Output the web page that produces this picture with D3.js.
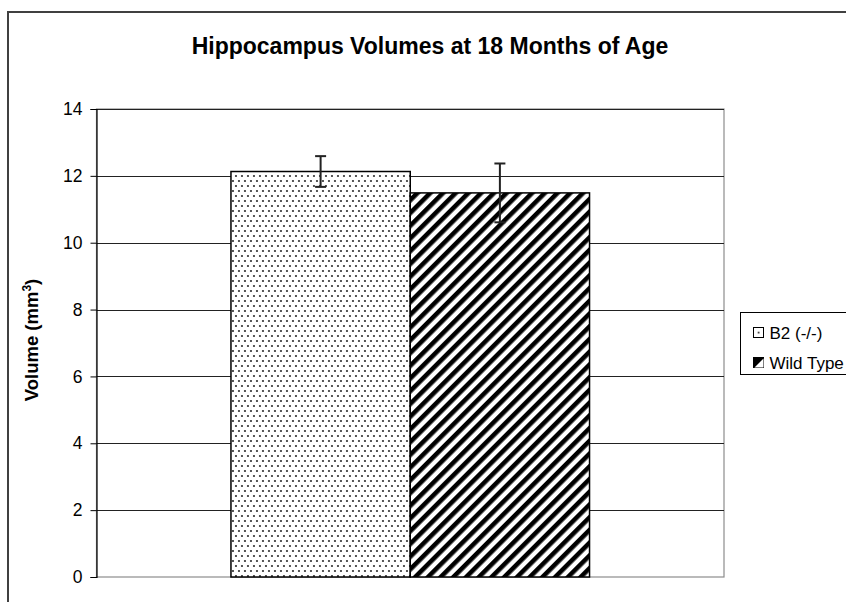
<!DOCTYPE html>
<html>
<head>
<meta charset="utf-8">
<script src="https://cdn.jsdelivr.net/npm/d3@7"></script>
<style>
  body { margin: 0; background: #fff; }
  svg { display: block; font-family: Arial, "Liberation Sans", sans-serif; }
</style>
</head>
<body>
<div id="chart"><svg></svg></div>
<script>
const categories = ['18 Months']
const series = ['B2 (-/-)', 'Wild Type']
const values = [12.13, 11.49]
const errors = [0.46, 0.88]
const yTicks = [0, 2, 4, 6, 8, 10, 12, 14]

const W = 846, H = 602
const margin = { top: 109, left: 96.5, right: 122, bottom: 25 }
const width = 724 - margin.left
const height = 577 - margin.top

const svg = d3.select('#chart svg').attr('width', W).attr('height', H)

// patterns
const defs = svg.append('defs')
const dots = defs.append('pattern')
  .attr('id', 'dots').attr('patternUnits', 'userSpaceOnUse')
  .attr('width', 6).attr('height', 10)
dots.append('rect').attr('width', 6).attr('height', 10).attr('fill', '#fff')
dots.append('rect').attr('x', 1).attr('y', 1).attr('width', 2).attr('height', 2).attr('fill', '#555')
dots.append('rect').attr('x', 4).attr('y', 6).attr('width', 2).attr('height', 2).attr('fill', '#555')

const stripes = defs.append('pattern')
  .attr('id', 'stripes').attr('patternUnits', 'userSpaceOnUse')
  .attr('width', 9).attr('height', 9)
  .attr('patternTransform', 'rotate(45)')
stripes.append('rect').attr('width', 9).attr('height', 9).attr('fill', '#fff')
stripes.append('rect').attr('width', 4.6).attr('height', 9).attr('fill', '#000')

const fills = ['url(#dots)', 'url(#stripes)']

// outer chart border
svg.append('rect')
  .attr('x', 8).attr('y', 12).attr('width', 900).attr('height', 700)
  .attr('fill', 'none').attr('stroke', '#404040').attr('stroke-width', 2)

const y = d3.scaleLinear().domain([0, 14]).range([height, 0])
const x0 = d3.scaleBand().domain(categories).range([0, width])
  .paddingInner(0).paddingOuter(0.375)
const x1 = d3.scaleBand().domain(series).range([0, x0.bandwidth()])

const g = svg.append('g').attr('transform', 'translate(' + margin.left + ',' + margin.top + ')')

// plot area border (gray)
g.append('rect')
  .attr('x', 0).attr('y', 0).attr('width', width).attr('height', height)
  .attr('fill', 'none').attr('stroke', '#8c8c8c').attr('stroke-width', 1.2)

// gridlines
g.append('g')
  .selectAll('line')
  .data(yTicks.filter(d => d > 0))
  .enter()
  .append('line')
  .attr('x1', 0).attr('x2', width)
  .attr('y1', d => Math.round(y(d)) + 0.5).attr('y2', d => Math.round(y(d)) + 0.5)
  .attr('stroke', '#222').attr('stroke-width', 1)

// y axis
const yAxis = g.append('g')
  .call(d3.axisLeft(y).tickValues(yTicks).tickSize(6).tickPadding(8).tickFormat(d3.format('d')))
yAxis.select('.domain').attr('stroke', '#000').attr('stroke-width', 1.2)
yAxis.selectAll('.tick line').attr('stroke', '#000')
yAxis.selectAll('.tick text')
  .attr('font-size', '17.5px').attr('fill', '#000')
  .attr('font-family', 'Arial, "Liberation Sans", sans-serif')

// bars
const bars = g.append('g')
  .attr('transform', 'translate(' + x0(categories[0]) + ',0)')

bars.selectAll('rect')
  .data(series)
  .enter()
  .append('rect')
  .attr('x', d => x1(d))
  .attr('y', (d, i) => y(values[i]))
  .attr('width', x1.bandwidth())
  .attr('height', (d, i) => height - y(values[i]))
  .attr('fill', (d, i) => fills[i])
  .attr('stroke', '#000')
  .attr('stroke-width', 1.5)

// error bars
const eb = bars.selectAll('.err')
  .data(series)
  .enter()
  .append('g')
  .attr('class', 'err')
  .attr('stroke', '#222')
  .attr('stroke-width', 2)
eb.append('line')
  .attr('x1', d => x1(d) + x1.bandwidth() / 2).attr('x2', d => x1(d) + x1.bandwidth() / 2)
  .attr('y1', (d, i) => y(values[i] + errors[i])).attr('y2', (d, i) => y(values[i] - errors[i]))
eb.append('line')
  .attr('x1', d => x1(d) + x1.bandwidth() / 2 - 5.5).attr('x2', d => x1(d) + x1.bandwidth() / 2 + 5.5)
  .attr('y1', (d, i) => y(values[i] + errors[i])).attr('y2', (d, i) => y(values[i] + errors[i]))
eb.append('line')
  .attr('x1', d => x1(d) + x1.bandwidth() / 2 - 5.5).attr('x2', d => x1(d) + x1.bandwidth() / 2 + 5.5)
  .attr('y1', (d, i) => y(values[i] - errors[i])).attr('y2', (d, i) => y(values[i] - errors[i]))

// title
svg.append('text')
  .attr('x', 430).attr('y', 54)
  .attr('text-anchor', 'middle')
  .attr('font-size', '23px').attr('font-weight', '700')
  .text('Hippocampus Volumes at 18 Months of Age')

// y axis title
const yt = svg.append('text')
  .attr('transform', 'translate(38,' + (margin.top + height / 2 - 3) + ') rotate(-90)')
  .attr('text-anchor', 'middle')
  .attr('font-size', '18.5px').attr('font-weight', '700')
yt.append('tspan').text('Volume (mm')
yt.append('tspan').attr('dy', '-7').attr('font-size', '12px').text('3')
yt.append('tspan').attr('dy', '7').text(')')

// legend
const leg = svg.append('g').attr('transform', 'translate(740.5,312.5)')
leg.append('rect')
  .attr('width', 130).attr('height', 62)
  .attr('fill', '#fff').attr('stroke', '#000').attr('stroke-width', 1)
const item = leg.selectAll('.item')
  .data(series)
  .enter()
  .append('g')
  .attr('class', 'item')
  .attr('transform', (d, i) => 'translate(13,' + (15 + i * 30) + ')')
item.append('rect')
  .attr('x', 0).attr('y', 0).attr('width', 10).attr('height', 10)
  .attr('fill', (d, i) => i === 0 ? '#fff' : '#000')
  .attr('stroke', '#000').attr('stroke-width', 1)
item.filter((d, i) => i === 0).append('rect')
  .attr('x', 4.2).attr('y', 4.2).attr('width', 1.8).attr('height', 1.8).attr('fill', '#444')
item.filter((d, i) => i === 1).append('path')
  .attr('d', 'M1,10 L10,1 L10,10 Z').attr('fill', '#fff')
item.append('text')
  .attr('x', 16).attr('y', 11)
  .attr('font-size', '17px')
  .text(d => d)
</script>
</body>
</html>
